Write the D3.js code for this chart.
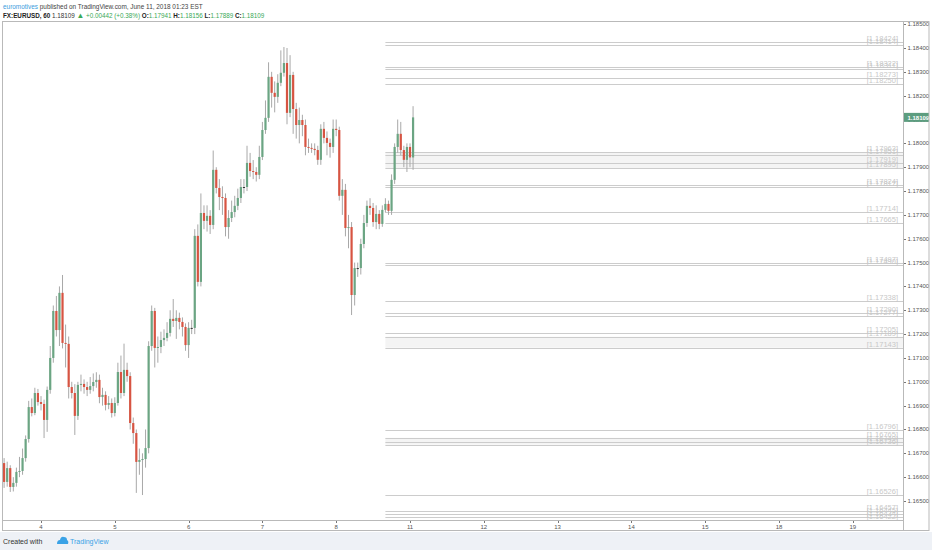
<!DOCTYPE html>
<html><head><meta charset="utf-8">
<script src="https://cdn.jsdelivr.net/npm/d3@7/dist/d3.min.js"></script>
<style>body{margin:0;background:#fff;}svg{display:block;}</style>
</head><body>
<svg id="c" width="932" height="550"></svg>
<script>
// ---------- DATA ----------
const author = "euromotives";
const publishedText = " published on TradingView.com, June 11, 2018 01:23 EST";
const symbolText = "FX:EURUSD, 60";
const lastPrice = 1.18109;
const changeText = "+0.00442 (+0.38%)";
const ohlcLabels = ["O:", "H:", "L:", "C:"];
const ohlcValues = ["1.17941", "1.18156", "1.17889", "1.18109"];

// hourly candles [open, high, low, close]
const candles = [
[1.16781,1.16798,1.16640,1.16659],[1.16659,1.16680,1.16555,1.16580],[1.16580,1.16665,1.16560,1.16638],
[1.16638,1.16650,1.16538,1.16559],[1.16559,1.16600,1.16540,1.16576],[1.16576,1.16640,1.16560,1.16622],
[1.16622,1.16685,1.16600,1.16626],[1.16626,1.16720,1.16610,1.16680],[1.16680,1.16775,1.16665,1.16760],
[1.16760,1.16920,1.16745,1.16894],[1.16894,1.16930,1.16855,1.16869],[1.16869,1.16975,1.16860,1.16953],
[1.16953,1.16970,1.16900,1.16915],[1.16915,1.16940,1.16880,1.16907],[1.16907,1.16925,1.16764,1.16840],
[1.16840,1.16980,1.16790,1.16966],[1.16966,1.17150,1.16950,1.17100],[1.17100,1.17320,1.17080,1.17297],
[1.17297,1.17360,1.17190,1.17217],[1.17217,1.17400,1.17150,1.17373],[1.17373,1.17448,1.17140,1.17163],
[1.17163,1.17240,1.17060,1.17159],[1.17159,1.17190,1.16930,1.16978],[1.16978,1.17000,1.16930,1.16953],
[1.16953,1.16990,1.16777,1.16857],[1.16857,1.17000,1.16840,1.16987],[1.16987,1.17030,1.16960,1.16991],
[1.16991,1.17010,1.16950,1.16978],[1.16978,1.17000,1.16940,1.16966],[1.16966,1.17020,1.16950,1.16982],
[1.16982,1.17035,1.16960,1.16999],[1.16999,1.17040,1.16975,1.17008],[1.17008,1.17030,1.16910,1.16936],
[1.16936,1.16975,1.16900,1.16945],[1.16945,1.16960,1.16880,1.16903],[1.16903,1.16940,1.16885,1.16911],
[1.16911,1.16930,1.16850,1.16869],[1.16869,1.16935,1.16855,1.16911],[1.16911,1.17080,1.16900,1.17041],
[1.17041,1.17110,1.16930,1.16953],[1.16953,1.17160,1.16940,1.17050],[1.17050,1.17080,1.17000,1.17024],
[1.17024,1.17040,1.16800,1.16827],[1.16827,1.16850,1.16740,1.16785],[1.16785,1.16800,1.16534,1.16664],
[1.16664,1.16720,1.16610,1.16672],[1.16672,1.16700,1.16525,1.16676],[1.16676,1.16800,1.16640,1.16722],
[1.16722,1.17170,1.16700,1.17150],[1.17150,1.17320,1.17130,1.17297],[1.17297,1.17310,1.17060,1.17142],
[1.17142,1.17190,1.17080,1.17146],[1.17146,1.17210,1.17120,1.17175],[1.17175,1.17220,1.17150,1.17184],
[1.17184,1.17250,1.17170,1.17205],[1.17205,1.17300,1.17190,1.17264],[1.17264,1.17347,1.17230,1.17255],
[1.17255,1.17300,1.17180,1.17268],[1.17268,1.17290,1.17220,1.17251],[1.17251,1.17270,1.17190,1.17230],
[1.17230,1.17245,1.17130,1.17154],[1.17154,1.17250,1.17100,1.17226],[1.17226,1.17260,1.17200,1.17226],
[1.17226,1.17640,1.17200,1.17612],[1.17612,1.17660,1.17400,1.17419],[1.17419,1.17790,1.17400,1.17708],
[1.17708,1.17740,1.17640,1.17675],[1.17675,1.17740,1.17630,1.17696],[1.17696,1.17720,1.17620,1.17658],
[1.17658,1.17970,1.17640,1.17889],[1.17889,1.17900,1.17790,1.17813],[1.17813,1.17850,1.17720,1.17775],
[1.17775,1.17820,1.17700,1.17771],[1.17771,1.17790,1.17610,1.17649],[1.17649,1.17720,1.17600,1.17687],
[1.17687,1.17760,1.17670,1.17712],[1.17712,1.17780,1.17690,1.17738],[1.17738,1.17810,1.17720,1.17771],
[1.17771,1.17850,1.17750,1.17817],[1.17817,1.17850,1.17790,1.17817],[1.17817,1.17990,1.17800,1.17918],
[1.17918,1.17960,1.17860,1.17884],[1.17884,1.17930,1.17850,1.17880],[1.17880,1.17900,1.17840,1.17868],
[1.17868,1.17990,1.17850,1.17943],[1.17943,1.18090,1.17930,1.18056],[1.18056,1.18180,1.18040,1.18107],
[1.18107,1.18340,1.18090,1.18279],[1.18279,1.18300,1.18150,1.18212],[1.18212,1.18260,1.18130,1.18195],
[1.18195,1.18290,1.18170,1.18254],[1.18254,1.18390,1.18240,1.18296],[1.18296,1.18404,1.18280,1.18337],
[1.18337,1.18400,1.18080,1.18128],[1.18128,1.18370,1.18110,1.18287],[1.18287,1.18300,1.18040,1.18144],
[1.18144,1.18170,1.18020,1.18077],[1.18077,1.18150,1.18000,1.18098],[1.18098,1.18120,1.18030,1.18077],
[1.18077,1.18100,1.17950,1.17985],[1.17985,1.18020,1.17960,1.17981],[1.17981,1.18000,1.17960,1.17977],
[1.17977,1.18000,1.17950,1.17972],[1.17972,1.17990,1.17910,1.17931],[1.17931,1.18080,1.17910,1.18061],
[1.18061,1.18090,1.18000,1.18023],[1.18023,1.18050,1.17950,1.18002],[1.18002,1.18020,1.17940,1.17985],
[1.17985,1.18100,1.17960,1.18061],[1.18061,1.18100,1.18030,1.18056],[1.18056,1.18070,1.17760,1.17780],
[1.17780,1.17850,1.17700,1.17805],[1.17805,1.17830,1.17610,1.17645],[1.17645,1.17700,1.17560,1.17649],
[1.17649,1.17670,1.17280,1.17364],[1.17364,1.17500,1.17320,1.17477],[1.17477,1.17500,1.17440,1.17477],
[1.17477,1.17600,1.17450,1.17578],[1.17578,1.17700,1.17560,1.17666],[1.17666,1.17760,1.17650,1.17738],
[1.17738,1.17770,1.17700,1.17729],[1.17729,1.17750,1.17650,1.17670],[1.17670,1.17740,1.17640,1.17704],
[1.17704,1.17720,1.17640,1.17662],[1.17662,1.17740,1.17650,1.17721],[1.17721,1.17770,1.17710,1.17746],
[1.17746,1.17760,1.17700,1.17717],[1.17717,1.17870,1.17700,1.17847],[1.17847,1.18000,1.17830,1.17985],
[1.17985,1.18100,1.17960,1.18040],[1.18040,1.18090,1.17950,1.17972],[1.17972,1.17990,1.17900,1.17931],
[1.17931,1.18000,1.17880,1.17985],[1.17985,1.18000,1.17900,1.17941],[1.17941,1.18156,1.17889,1.18109]
];

// time axis: day labels and the candle index where each day starts
const dayLabels = ["4","5","6","7","8","11","12","13","14","15","18","19"];
const dayIndex  = [13, 37, 61, 85, 109, 133, 157, 181, 205, 229, 253, 277];

// price axis ticks
const priceTicks = [1.165,1.166,1.167,1.168,1.169,1.170,1.171,1.172,1.173,1.174,1.175,
                    1.176,1.177,1.178,1.179,1.180,1.181,1.182,1.183,1.184,1.185];

// horizontal levels (rays starting at levelStart candle index)
const levels = [1.18424,1.18414,1.18322,1.18311,1.18273,1.18250,
                1.17963,1.17951,1.17919,1.17895,1.17824,1.17817,1.17714,1.17665,
                1.17497,1.17490,1.17338,1.17290,1.17277,1.17205,1.17189,1.17143,
                1.16796,1.16765,1.16749,1.16736,1.16526,1.16457,1.16445,1.16434,1.16422];
const levelStart = 125;
// lightly shaded zones between level pairs [upper, lower]
const zones = [[1.17963, 1.17895], [1.17189, 1.17143], [1.16765, 1.16736]];

// ---------- DRAW ----------
const W = 932, H = 550;
const plot = {l: 3, r: 903, t: 22, b: 520};
const svg = d3.select("#c");
const FONT = "'Liberation Sans', Arial, sans-serif";

const x = d3.scaleLinear().domain([dayIndex[0], dayIndex[5]]).range([41, 410]);
const y = d3.scaleLinear().domain([1.165, 1.184]).range([501, 48]);

// backgrounds
svg.append("rect").attr("width", W).attr("height", H).attr("fill", "#fff");
svg.append("rect").attr("x", 0).attr("y", 532).attr("width", W).attr("height", 18).attr("fill", "#eef1f6");

const defs = svg.append("defs");
defs.append("clipPath").attr("id", "plotclip").append("rect")
  .attr("x", plot.l).attr("y", plot.t).attr("width", plot.r - plot.l).attr("height", plot.b - plot.t);
defs.append("clipPath").attr("id", "axisclip").append("rect")
  .attr("x", plot.r).attr("y", plot.t).attr("width", 27).attr("height", plot.b - plot.t);

const gPlot = svg.append("g").attr("clip-path", "url(#plotclip)");

// zones
gPlot.append("g").selectAll("rect").data(zones).join("rect")
  .attr("x", x(levelStart)).attr("width", plot.r - x(levelStart))
  .attr("y", d => y(d[0])).attr("height", d => y(d[1]) - y(d[0]))
  .attr("fill", "#f4f4f4");

// level rays
const gLev = gPlot.append("g");
gLev.selectAll("line").data(levels).join("line")
  .attr("x1", x(levelStart)).attr("x2", plot.r)
  .attr("y1", d => Math.round(y(d)) + 0.5).attr("y2", d => Math.round(y(d)) + 0.5)
  .attr("stroke", "#cccccc").attr("stroke-width", 1);
gLev.selectAll("text").data(levels).join("text")
  .attr("x", 898).attr("y", d => y(d) - 1)
  .attr("text-anchor", "end").attr("font-family", FONT).attr("font-size", 7.5)
  .attr("fill", "#c8c8c8").text(d => "[" + d.toFixed(5) + "]");

// candles
const up = "#6ba583", down = "#d75442", wick = "#a8a8a8";
const gC = gPlot.append("g");
gC.selectAll("line.w").data(candles).join("line").attr("class", "w")
  .attr("x1", (d, i) => x(i)).attr("x2", (d, i) => x(i))
  .attr("y1", d => y(d[1])).attr("y2", d => y(d[2]))
  .attr("stroke", wick).attr("stroke-width", 1);
gC.selectAll("rect").data(candles).join("rect")
  .attr("x", (d, i) => x(i) - 1.1).attr("width", 2.2)
  .attr("y", d => y(Math.max(d[0], d[3])))
  .attr("height", d => Math.max(1, Math.abs(y(d[0]) - y(d[3]))))
  .attr("fill", d => d[3] > d[0] ? up : (d[3] < d[0] ? down : "#333"));

// price axis
const gA = svg.append("g").attr("clip-path", "url(#axisclip)");
gA.selectAll("line").data(priceTicks).join("line")
  .attr("x1", plot.r).attr("x2", plot.r + 3)
  .attr("y1", d => Math.round(y(d)) + 0.5).attr("y2", d => Math.round(y(d)) + 0.5)
  .attr("stroke", "#777");
gA.selectAll("text").data(priceTicks).join("text")
  .attr("x", plot.r + 4.5).attr("y", d => y(d) + 2)
  .attr("font-family", FONT).attr("font-size", 6).attr("fill", "#555")
  .text(d => d.toFixed(5));

// last price label
svg.append("rect").attr("x", plot.r).attr("y", y(lastPrice) - 4.5).attr("width", 26).attr("height", 9)
  .attr("fill", "#5c9d7f");
svg.append("text").attr("x", plot.r + 4.5).attr("y", y(lastPrice) + 2.2)
  .attr("font-family", FONT).attr("font-size", 6).attr("font-weight", "bold").attr("fill", "#fff")
  .text(lastPrice.toFixed(5));

// time axis
const gT = svg.append("g");
gT.selectAll("line").data(dayIndex).join("line")
  .attr("x1", d => Math.round(x(d)) + 0.5).attr("x2", d => Math.round(x(d)) + 0.5)
  .attr("y1", plot.b).attr("y2", plot.b + 3).attr("stroke", "#777");
gT.selectAll("text").data(dayLabels).join("text")
  .attr("x", (d, i) => x(dayIndex[i])).attr("y", plot.b + 9)
  .attr("text-anchor", "middle").attr("font-family", FONT).attr("font-size", 6).attr("fill", "#555")
  .text(d => d);

// frame
const frameCol = "#b9b9b9";
svg.append("rect").attr("x", plot.l - 0.5).attr("y", plot.t - 0.5)
  .attr("width", 929.5 - plot.l).attr("height", 531 - plot.t)
  .attr("fill", "none").attr("stroke", frameCol);
svg.append("line").attr("x1", plot.r + 0.5).attr("x2", plot.r + 0.5).attr("y1", plot.t).attr("y2", 531)
  .attr("stroke", frameCol);
svg.append("line").attr("x1", plot.l).attr("x2", plot.r).attr("y1", plot.b + 0.5).attr("y2", plot.b + 0.5)
  .attr("stroke", frameCol);

// header
function fitText(sel, target) {
  const w = sel.node().getComputedTextLength();
  const fs = parseFloat(sel.attr("font-size"));
  sel.attr("font-size", fs * target / w);
}
const h1 = svg.append("text").attr("x", 3).attr("y", 8.5).attr("font-family", FONT).attr("font-size", 8);
h1.append("tspan").attr("fill", "#3b9ddd").text(author);
h1.append("tspan").attr("fill", "#444").text(publishedText);
fitText(h1, 200);

const green = "#3aa957";
const h2 = svg.append("text").attr("x", 3).attr("y", 17.5).attr("font-family", FONT).attr("font-size", 8);
h2.append("tspan").attr("fill", "#222").attr("font-weight", "bold").text(symbolText);
h2.append("tspan").attr("fill", "#333").text("  " + lastPrice.toFixed(5) + " ");
h2.append("tspan").attr("fill", green).attr("font-size", "1.25em").text("\u25B2");
h2.append("tspan").attr("fill", green).text(" " + changeText + " ");
ohlcLabels.forEach((lab, i) => {
  h2.append("tspan").attr("fill", "#222").attr("font-weight", "bold").text(" " + lab);
  h2.append("tspan").attr("fill", green).text(ohlcValues[i]);
});
fitText(h2, 262);

// footer
svg.append("text").attr("x", 3).attr("y", 544).attr("font-family", FONT).attr("font-size", 7)
  .attr("fill", "#333").text("Created with");
const logo = svg.append("g").attr("transform", "translate(57,536)");
logo.append("path").attr("d", "M0,8 Q0,4 3,4 Q4,0 7,1 Q10,1 10,4 Q12,5 11,8 Z").attr("fill", "#3aa2e6");
svg.append("text").attr("x", 70).attr("y", 544).attr("font-family", FONT).attr("font-size", 7)
  .attr("fill", "#3aa2e6").text("TradingView");
</script>
</body></html>
